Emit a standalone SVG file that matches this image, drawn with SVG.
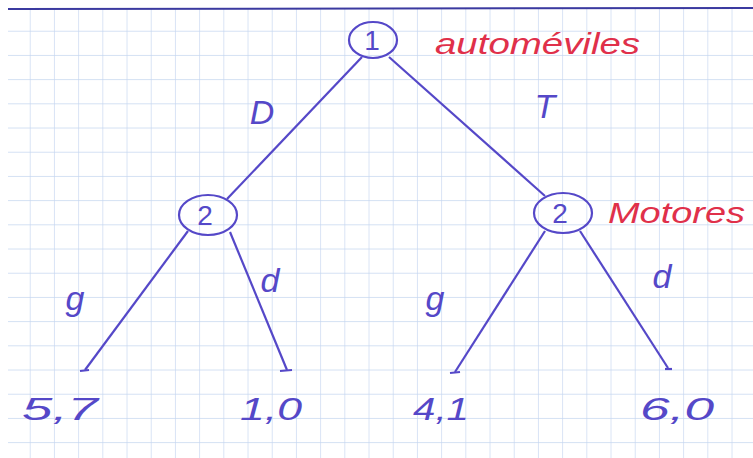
<svg xmlns="http://www.w3.org/2000/svg" width="753" height="458" viewBox="0 0 753 458">
<style>
.g{stroke:#c5d6f0;stroke-width:1.3}
.e{fill:none;stroke:#5548c8;stroke-width:2.2}
.n{font-family:"Liberation Sans",sans-serif;font-size:28px;fill:#5548c8;text-anchor:middle}
.l{font-family:"Liberation Sans",sans-serif;font-style:italic;font-size:34px;fill:#5548c8;text-anchor:middle}
.v{font-family:"Liberation Sans",sans-serif;font-style:italic;font-size:32px;fill:#5548c8}
.r{font-family:"Liberation Sans",sans-serif;font-style:italic;font-size:30px;fill:#e0304a}
</style>
<defs>
<pattern id="grid" x="6.5" y="7.5" width="24.2" height="24.2" patternUnits="userSpaceOnUse">
<path d="M24.2 0V24.2M0 24.2H24.2" class="g" fill="none"/>
</pattern>
</defs>
<rect width="753" height="458" fill="#fff"/>
<rect x="8" y="9" width="745" height="449" fill="url(#grid)"/>
<line x1="8" y1="9" x2="753" y2="8" stroke="#3b3aa0" stroke-width="2"/>
<g id="connectors" class="e">
<line x1="362" y1="57" x2="227" y2="199"/>
<line x1="389" y1="57" x2="545" y2="196"/>
<line x1="188" y1="231" x2="85" y2="370"/>
<line x1="230" y1="232" x2="287" y2="370"/>
<line x1="545" y1="231" x2="455" y2="372"/>
<line x1="580" y1="231" x2="668" y2="368"/>
<line x1="80" y1="371" x2="89" y2="370"/>
<line x1="280" y1="371" x2="292" y2="370"/>
<line x1="450" y1="373" x2="460" y2="372"/>
<line x1="665" y1="369" x2="672" y2="369"/>
</g>
<g id="n1">
<ellipse cx="373" cy="40" rx="24" ry="18" class="e"/>
<text x="372" y="50" class="n">1</text>
</g>
<g id="n2l">
<ellipse cx="208" cy="215" rx="29" ry="20" class="e"/>
<text x="205" y="225" class="n">2</text>
</g>
<g id="n2r">
<ellipse cx="563" cy="213" rx="29" ry="20" class="e"/>
<text x="560" y="223" class="n">2</text>
</g>
<g id="labels">
<text x="262" y="124" class="l">D</text>
<text x="545" y="118" class="l">T</text>
<text x="75" y="310" class="l" font-size="44">g</text>
<text x="270" y="292" class="l">d</text>
<text x="435" y="310" class="l" font-size="44">g</text>
<text x="662" y="288" class="l">d</text>
<text x="435" y="54" class="r" textLength="205" lengthAdjust="spacingAndGlyphs">automéviles</text>
<text x="608" y="223" class="r" textLength="137" lengthAdjust="spacingAndGlyphs">Motores</text>
</g>
<g id="leaves">
<text x="22" y="420" class="v" textLength="76" lengthAdjust="spacingAndGlyphs">5,7</text>
<text x="240" y="420" class="v" textLength="62" lengthAdjust="spacingAndGlyphs">1,0</text>
<text x="413" y="420" class="v" textLength="56" lengthAdjust="spacingAndGlyphs">4,1</text>
<text x="640" y="420" class="v" textLength="74" lengthAdjust="spacingAndGlyphs">6,0</text>
</g>
</svg>
